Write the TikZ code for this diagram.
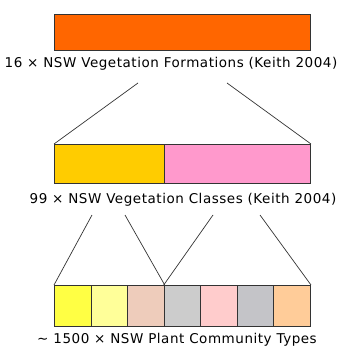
\documentclass[tikz,border=0pt]{standalone}
\usepackage{fontspec}
\setmainfont{DejaVu Sans}
\newfontfamily\widefont[LetterSpace=4]{DejaVu Sans}
\definecolor{c1}{HTML}{FF6600}
\definecolor{c2}{HTML}{FFCC00}
\definecolor{c3}{HTML}{FF99CC}
\definecolor{p1}{HTML}{FFFF44}
\definecolor{p2}{HTML}{FFFF99}
\definecolor{p3}{HTML}{EECCBB}
\definecolor{p4}{HTML}{CCCCCC}
\definecolor{p5}{HTML}{FFCCCC}
\definecolor{p6}{HTML}{C4C4C8}
\definecolor{p7}{HTML}{FFCC99}
\definecolor{ln}{HTML}{333333}
\begin{document}
\begin{tikzpicture}[x=1pt,y=-1pt,
  cell/.style={draw=ln,line width=1pt,inner sep=0pt,anchor=north west},
  lbl/.style={font=\widefont\fontsize{13.5}{15}\selectfont,text=black,inner sep=0pt},
  conn/.style={draw=ln,line width=0.7pt}]
\useasboundingbox (0,0) rectangle (341,358);
\node[cell,fill=c1,minimum width=256pt,minimum height=36pt] (top) at (54,14) {};
\node[lbl] (l1) at (171,64) {16 × NSW Vegetation Formations (Keith 2004)};
\node[cell,fill=c2,minimum width=110pt,minimum height=39pt] (m1) at (54,144) {};
\node[cell,fill=c3,minimum width=146pt,minimum height=39pt] (m2) at (164,144) {};
\node[lbl] (l2) at (183,200) {99 × NSW Vegetation Classes (Keith 2004)};
\foreach \i/\c in {0/p1,1/p2,2/p3,3/p4,4/p5,5/p6,6/p7}{
  \node[cell,fill=\c,minimum width=36.57pt,minimum height=41pt] (b\i) at (54+\i*36.57,285) {};
}
\node[lbl] (l3) at (177,340) {\textasciitilde{} 1500 × NSW Plant Community Types};
\coordinate (a1) at (138,83);
\coordinate (a2) at (227,83);
\draw[conn] (a1) -- (m1.north west);
\draw[conn] (a2) -- (m2.north east);
\coordinate (d1) at (92,215);
\coordinate (d2) at (125,215);
\coordinate (d3) at (213,215);
\coordinate (d4) at (260,215);
\draw[conn] (d1) -- (b0.north west);
\draw[conn] (d2) -- (b2.north east);
\draw[conn] (d3) -- (b3.north west);
\draw[conn] (d4) -- (b6.north east);
\end{tikzpicture}
\end{document}
